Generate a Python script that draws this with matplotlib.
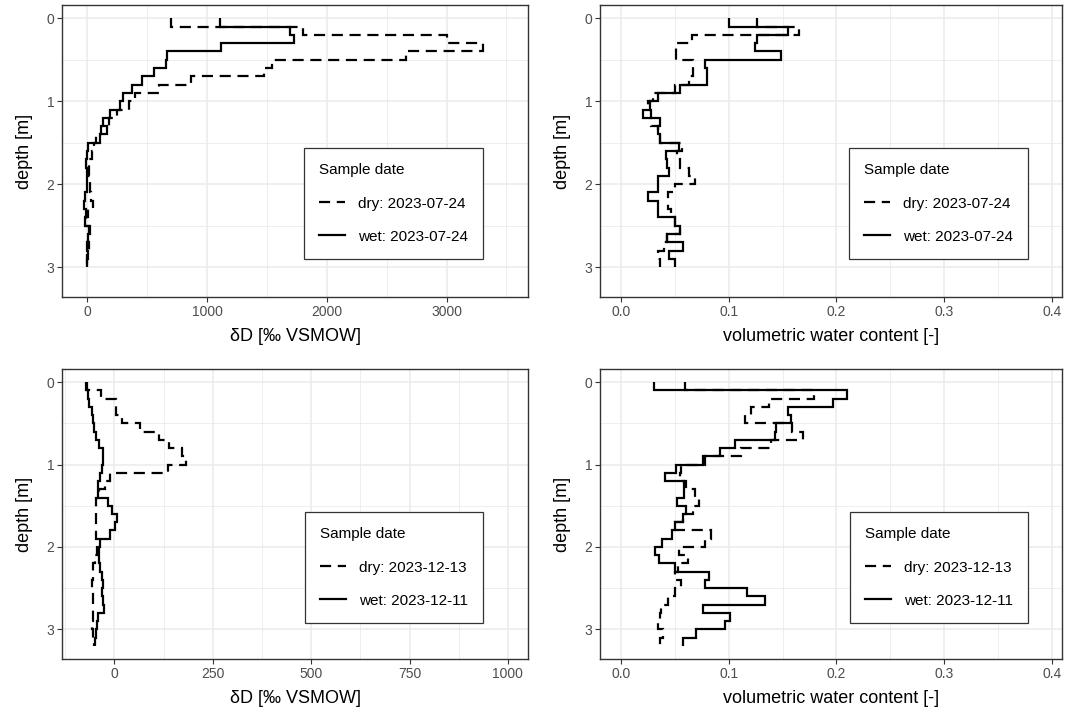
import numpy as np
import matplotlib
matplotlib.use("Agg")
import matplotlib.pyplot as plt
from matplotlib.lines import Line2D
from matplotlib.ticker import MultipleLocator

plt.rcParams['font.family'] = ['Liberation Sans', 'DejaVu Sans']

# depth layer edges [m]
depth_jul = [0.0, 0.1, 0.2, 0.3, 0.4, 0.5, 0.6, 0.7, 0.8, 0.9, 1.0, 1.1, 1.2, 1.3, 1.4, 1.5,
             1.6, 1.7, 1.8, 1.9, 2.0, 2.1, 2.2, 2.3, 2.4, 2.5, 2.6, 2.7, 2.8, 2.9, 3.0]
depth_dec = [0.0, 0.1, 0.2, 0.3, 0.4, 0.5, 0.6, 0.7, 0.8, 0.9, 1.0, 1.1, 1.2, 1.3, 1.4, 1.5,
             1.6, 1.7, 1.8, 1.9, 2.0, 2.1, 2.2, 2.3, 2.4, 2.5, 2.6, 2.7, 2.8, 2.9, 3.0, 3.1, 3.2]

# July - deuterium
dD_jul_wet = [1107, 1692, 1726, 1113, 662, 653, 558, 453, 369, 300, 270, 187, 131, 159, 103,
              7, -7, -12, -7, -7, -7, -21, -30, -15, -21, 21, 7, 0, 7, -7]
dD_jul_dry = [695, 1804, 3001, 3306, 2662, 1539, 1478, 865, 600, 397, 350, 250, 180, 110, 70,
              54, 40, 10, 15, 20, 25, 30, 49, 5, -10, 10, 5, 15, 0, -5]

# July - water content
vwc_jul_wet = [0.100, 0.155, 0.126, 0.124, 0.149, 0.078, 0.080, 0.080, 0.055, 0.034, 0.027,
               0.020, 0.036, 0.034, 0.036, 0.054, 0.042, 0.043, 0.045, 0.034, 0.034, 0.025,
               0.034, 0.034, 0.050, 0.055, 0.043, 0.058, 0.045, 0.050]
vwc_jul_dry = [0.126, 0.165, 0.066, 0.051, 0.051, 0.067, 0.067, 0.063, 0.050, 0.030, 0.025,
               0.028, 0.028, 0.034, 0.036, 0.057, 0.052, 0.055, 0.063, 0.069, 0.050, 0.044,
               0.044, 0.046, 0.050, 0.055, 0.043, 0.040, 0.034, 0.036]

# December - deuterium
dD_dec_wet = [-72, -68, -64, -58, -53, -51, -47, -38, -30, -28, -32, -36, -41, -42, -15, -7,
              8, 2, -11, -36, -38, -38, -36, -32, -30, -32, -28, -26, -41, -45, -47, -50]
dD_dec_dry = [-70, -35, 4, 4, 19, 65, 114, 140, 171, 182, 137, -11, -24, -38, -47, -47,
              -47, -47, -47, -41, -43, -49, -53, -53, -56, -53, -53, -55, -55, -56, -53, -51]

# December - water content
vwc_dec_wet = [0.031, 0.210, 0.197, 0.155, 0.158, 0.144, 0.143, 0.106, 0.092, 0.076, 0.051,
               0.041, 0.0585, 0.0585, 0.052, 0.060, 0.058, 0.050, 0.047, 0.038, 0.032, 0.035,
               0.050, 0.082, 0.078, 0.117, 0.134, 0.076, 0.101, 0.097, 0.070, 0.058]
vwc_dec_dry = [0.059, 0.179, 0.137, 0.121, 0.115, 0.159, 0.169, 0.139, 0.111, 0.078, 0.056,
               0.055, 0.060, 0.069, 0.072, 0.067, 0.058, 0.050, 0.084, 0.078, 0.054, 0.062,
               0.053, 0.050, 0.056, 0.050, 0.044, 0.037, 0.036, 0.034, 0.039, 0.036]

labels_jul = ["dry: 2023-07-24", "wet: 2023-07-24"]
labels_dec = ["dry: 2023-12-13", "wet: 2023-12-11"]

DASH = (0, (5, 3))
LW = 1.6
GRID = '#EBEBEB'
BORDER = '#333333'
TXT = '#4D4D4D'

W, H = 1067, 712
fig = plt.figure(figsize=(W / 100, H / 100), dpi=100)


def px_axes(l, t, r, b):
    return fig.add_axes([l / W, 1 - b / H, (r - l) / W, (b - t) / H])


def style_axes(ax, xlim, xmaj, xmin, xlabel):
    ax.set_xlim(*xlim)
    ax.set_ylim(3.36, -0.16)
    ax.xaxis.set_major_locator(MultipleLocator(xmaj))
    ax.xaxis.set_minor_locator(MultipleLocator(xmin))
    ax.yaxis.set_major_locator(MultipleLocator(1))
    ax.yaxis.set_minor_locator(MultipleLocator(0.5))
    ax.grid(which='major', color=GRID, lw=1.1, zorder=0)
    ax.grid(which='minor', color=GRID, lw=0.6, zorder=0)
    ax.set_axisbelow(True)
    for s in ax.spines.values():
        s.set_color(BORDER)
        s.set_linewidth(1.0)
    ax.tick_params(which='major', length=3.5, color=BORDER, labelcolor=TXT, labelsize=10, pad=2)
    ax.tick_params(which='minor', length=0)
    ax.set_xlabel(xlabel, fontsize=13, labelpad=7)
    ax.set_ylabel("depth [m]", fontsize=13, labelpad=10)


def add_profile(ax, edges, dry, wet, labels, anchor):
    ax.stairs(dry, edges, orientation='horizontal', baseline=None, color='black',
              lw=LW, linestyle=DASH, zorder=3)
    ax.stairs(wet, edges, orientation='horizontal', baseline=None, color='black',
              lw=LW, zorder=3)
    handles = [Line2D([], [], color='black', lw=LW, linestyle=DASH),
               Line2D([], [], color='black', lw=LW)]
    leg = ax.legend(handles, labels, title="Sample date", loc='lower right',
                    bbox_to_anchor=anchor, fontsize=11, title_fontsize=11,
                    handlelength=1.7, handletextpad=0.8, labelspacing=1.25,
                    borderpad=1.0, borderaxespad=0, fancybox=False, framealpha=1)
    leg._legend_box.align = 'left'
    leg._legend_box.sep = 14
    leg.get_frame().set_edgecolor(BORDER)
    leg.get_frame().set_linewidth(0.9)


DD = "\u03b4D [\u2030 VSMOW]"
VWC = "volumetric water content [-]"

ax1 = px_axes(62, 5, 528, 297)
add_profile(ax1, depth_jul, dD_jul_dry, dD_jul_wet, labels_jul, (0.903, 0.130))
style_axes(ax1, (-213, 3680), 1000, 500, DD)

ax2 = px_axes(600, 5, 1062, 297)
add_profile(ax2, depth_jul, vwc_jul_dry, vwc_jul_wet, labels_jul, (0.926, 0.130))
style_axes(ax2, (-0.0195, 0.4095), 0.1, 0.05, VWC)

ax3 = px_axes(62, 369, 528, 659)
add_profile(ax3, depth_dec, dD_dec_dry, dD_dec_wet, labels_dec, (0.903, 0.124))
style_axes(ax3, (-133, 1051), 250, 125, DD)

ax4 = px_axes(600, 369, 1062, 659)
add_profile(ax4, depth_dec, vwc_dec_dry, vwc_dec_wet, labels_dec, (0.926, 0.124))
style_axes(ax4, (-0.0195, 0.4095), 0.1, 0.05, VWC)

fig.savefig("out.png", dpi=100)
